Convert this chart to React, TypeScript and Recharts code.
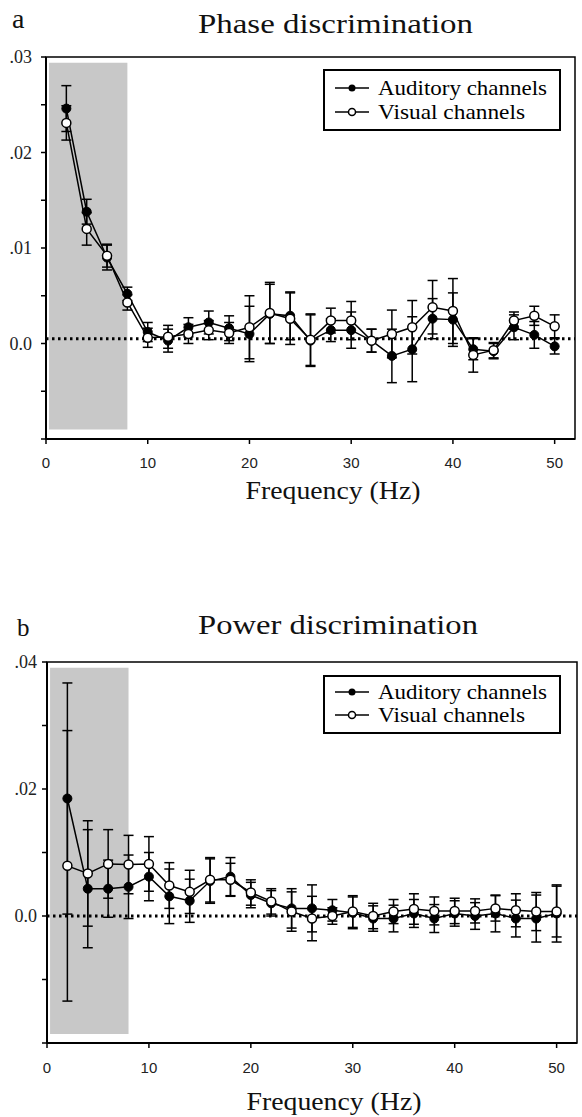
import React from "react";
import {
  ComposedChart,
  ErrorBar,
  Line,
  ReferenceArea,
  ReferenceLine,
  XAxis,
  YAxis,
} from "recharts";

// frequency bins (Hz)
const frequencies = [
  2, 4, 6, 8, 10, 12, 14, 16, 18, 20, 22, 24, 26, 28, 30, 32, 34, 36, 38, 40,
  42, 44, 46, 48, 50,
];

// panel a - phase discrimination
const phaseAuditory = [
  0.0246, 0.0138, 0.009, 0.0052, 0.0012, 0.0003, 0.0017, 0.0022, 0.0016, 0.001,
  0.0031, 0.0029, 0.0003, 0.0014, 0.0014, 0.0003, -0.0013, -0.0006, 0.0026,
  0.0025, -0.0006, -0.0008, 0.0017, 0.0009, -0.0003,
];
const phaseAuditoryErr = [
  0.0024, 0.0013, 0.0013, 0.0007, 0.001, 0.0012, 0.001, 0.0012, 0.0013, 0.0029,
  0.0031, 0.0025, 0.0027, 0.0012, 0.0019, 0.0012, 0.0028, 0.0034, 0.0021,
  0.0028, 0.0011, 0.0008, 0.0013, 0.0014, 0.0008,
];
const phaseVisual = [
  0.0231, 0.012, 0.0092, 0.0043, 0.0006, 0.0007, 0.001, 0.0014, 0.0011, 0.0017,
  0.0032, 0.0026, 0.0004, 0.0024, 0.0024, 0.0003, 0.001, 0.0017, 0.0038,
  0.0034, -0.0012, -0.0007, 0.0024, 0.0029, 0.0018,
];
const phaseVisualErr = [
  0.0018, 0.0017, 0.0012, 0.0008, 0.001, 0.0012, 0.001, 0.001, 0.0011, 0.0033,
  0.0032, 0.0027, 0.0027, 0.0013, 0.002, 0.0012, 0.0025, 0.0028, 0.0028,
  0.0034, 0.0018, 0.0008, 0.0009, 0.001, 0.0012,
];

// panel b - power discrimination
const powerAuditory = [
  0.0185, 0.0043, 0.0043, 0.0046, 0.0062, 0.0031, 0.0024, 0.0055, 0.0062,
  0.0033, 0.002, 0.0012, 0.0012, 0.0009, 0.0005, -0.0004, -0.0004, 0.0004,
  -0.0004, 0.0004, 0.0, 0.0004, -0.0004, -0.0004, 0.0004,
];
const powerAuditoryErr = [
  0.0182, 0.0093, 0.0045, 0.005, 0.0038, 0.0043, 0.0034, 0.0035, 0.003, 0.002,
  0.002, 0.0031, 0.0037, 0.0017, 0.0025, 0.002, 0.0021, 0.0022, 0.0022, 0.002,
  0.0021, 0.0029, 0.0029, 0.0037, 0.0045,
];
const powerVisual = [
  0.0079, 0.0067, 0.0082, 0.0081, 0.0082, 0.0048, 0.0038, 0.0057, 0.0057,
  0.0037, 0.0023, 0.0007, -0.0004, 0.0, 0.0007, 0.0, 0.0007, 0.0011, 0.0008,
  0.0008, 0.0008, 0.0012, 0.0009, 0.0007, 0.0007,
];
const powerVisualErr = [
  0.0213, 0.0083, 0.0054, 0.0046, 0.0043, 0.0036, 0.0034, 0.0035, 0.0026, 0.002,
  0.002, 0.0031, 0.0035, 0.0013, 0.0025, 0.002, 0.0019, 0.0024, 0.0022, 0.002,
  0.0019, 0.002, 0.0026, 0.003, 0.004,
];

const seriesNames = ["Auditory channels", "Visual channels"];

const xTicks = [0, 10, 20, 30, 40, 50];
const phaseYTicks = [-0.01, -0.005, 0, 0.005, 0.01, 0.015, 0.02, 0.025, 0.03];
const phaseYLabels = ["", "", "0.0", "", ".01", "", ".02", "", ".03"];
const powerYTicks = [-0.02, -0.01, 0, 0.01, 0.02, 0.03, 0.04];
const powerYLabels = ["", "", "0.0", "", ".02", "", ".04"];

const phaseChance = 0.0005;
const powerChance = 0;

const SERIF = "'Liberation Serif', 'Times New Roman', serif";
const SANS = "'Liberation Sans', Arial, sans-serif";

const makeRows = (aud: number[], audErr: number[], vis: number[], visErr: number[]) =>
  frequencies.map((f, i) => ({
    f,
    aud: aud[i],
    audErr: audErr[i],
    vis: vis[i],
    visErr: visErr[i],
  }));

interface PanelProps {
  top: number;
  rows: ReturnType<typeof makeRows>;
  yDomain: [number, number];
  yTicks: number[];
  yLabels: string[];
  shade: [number, number];
  chance: number;
  margin: { top: number; right: number; bottom: number; left: number };
  yWidth: number;
  yTickMargin: number;
  xTickMargin: number;
}

const Panel: React.FC<PanelProps> = ({
  top,
  rows,
  yDomain,
  yTicks,
  yLabels,
  shade,
  chance,
  margin,
  yWidth,
  yTickMargin,
  xTickMargin,
}) => (
  <div style={{ position: "absolute", left: 0, top, width: 582, height: 500 }}>
    <ComposedChart width={582} height={500} data={rows} margin={margin}>
      <ReferenceArea
        x1={0.3}
        x2={8}
        y1={shade[0]}
        y2={shade[1]}
        fill="#c8c8c8"
        fillOpacity={1}
        stroke="none"
      />
      <ReferenceArea
        x1={0}
        x2={52}
        y1={yDomain[0]}
        y2={yDomain[1]}
        fill="none"
        stroke="#000"
        strokeWidth={1.5}
      />
      <XAxis
        type="number"
        dataKey="f"
        domain={[0, 52]}
        ticks={xTicks}
        interval={0}
        height={30}
        tickSize={5}
        tickMargin={xTickMargin}
        axisLine={{ stroke: "#000", strokeWidth: 2 }}
        tickLine={{ stroke: "#000", strokeWidth: 1.5 }}
        tick={{ fill: "#222", fontSize: 15, fontFamily: SANS }}
      />
      <YAxis
        type="number"
        domain={yDomain}
        ticks={yTicks}
        interval={0}
        width={yWidth}
        tickSize={5}
        tickMargin={yTickMargin}
        axisLine={{ stroke: "#000", strokeWidth: 2 }}
        tickLine={{ stroke: "#000", strokeWidth: 1.5 }}
        tick={{ fill: "#222", fontSize: 18, fontFamily: SERIF }}
        tickFormatter={(v: number) => yLabels[yTicks.indexOf(v)] ?? ""}
      />
      <ReferenceLine
        y={chance}
        stroke="#000"
        strokeWidth={3}
        strokeDasharray="2.5 3.5"
      />
      <Line
        type="linear"
        dataKey="aud"
        name={seriesNames[0]}
        stroke="#000"
        strokeWidth={1.5}
        dot={{ r: 4.5, fill: "#000", stroke: "#000", strokeWidth: 1 }}
        activeDot={false}
        isAnimationActive={false}
      >
        <ErrorBar dataKey="audErr" width={5} stroke="#000" strokeWidth={1.5} direction="y" />
      </Line>
      <Line
        type="linear"
        dataKey="vis"
        name={seriesNames[1]}
        stroke="#000"
        strokeWidth={1.5}
        dot={{ r: 4.5, fill: "#fff", stroke: "#000", strokeWidth: 1.5 }}
        activeDot={false}
        isAnimationActive={false}
      >
        <ErrorBar dataKey="visErr" width={5} stroke="#000" strokeWidth={1.5} direction="y" />
      </Line>
    </ComposedChart>
  </div>
);

const LegendBox: React.FC<{ y: number; h: number; r1: number; r2: number }> = ({ y, h, r1, r2 }) => (
  <g>
    <rect x={324} y={y} width={236} height={h} fill="#fff" stroke="#000" strokeWidth={2} />
    <line x1={335} x2={369} y1={r1} y2={r1} stroke="#000" strokeWidth={1.5} />
    <circle cx={352} cy={r1} r={3.5} fill="#000" />
    <text x={378} y={r1 + 7} fontFamily={SERIF} fontSize={22} textLength={169} lengthAdjust="spacingAndGlyphs">
      {seriesNames[0]}
    </text>
    <line x1={335} x2={369} y1={r2} y2={r2} stroke="#000" strokeWidth={1.5} />
    <circle cx={352} cy={r2} r={3.5} fill="#fff" stroke="#000" strokeWidth={1.5} />
    <text x={378} y={r2 + 7} fontFamily={SERIF} fontSize={22} textLength={147} lengthAdjust="spacingAndGlyphs">
      {seriesNames[1]}
    </text>
  </g>
);

export default function App() {
  const phaseRows = makeRows(phaseAuditory, phaseAuditoryErr, phaseVisual, phaseVisualErr);
  const powerRows = makeRows(powerAuditory, powerAuditoryErr, powerVisual, powerVisualErr);

  return (
    <div style={{ position: "absolute", left: 0, top: 0, width: 582, height: 1117, background: "#fff" }}>
      <Panel
        top={0}
        rows={phaseRows}
        yDomain={[-0.01, 0.03]}
        yTicks={phaseYTicks}
        yLabels={phaseYLabels}
        shade={[-0.009, 0.0294]}
        chance={phaseChance}
        margin={{ top: 57, right: 7, bottom: 31, left: 0 }}
        yWidth={46}
        yTickMargin={9}
        xTickMargin={13}
      />
      <Panel
        top={600}
        rows={powerRows}
        yDomain={[-0.02, 0.04]}
        yTicks={powerYTicks}
        yLabels={powerYLabels}
        shade={[-0.0186, 0.0391]}
        chance={powerChance}
        margin={{ top: 62, right: 5, bottom: 27, left: 0 }}
        yWidth={47}
        yTickMargin={5}
        xTickMargin={14}
      />
      <svg
        width={582}
        height={1117}
        style={{ position: "absolute", left: 0, top: 0, pointerEvents: "none" }}
      >
        <text x={12} y={28} fontFamily={SERIF} fontSize={28} fill="#111">a</text>
        <text x={198} y={33} fontFamily={SERIF} fontSize={27} fill="#111" textLength={275} lengthAdjust="spacingAndGlyphs">
          Phase discrimination
        </text>
        <LegendBox y={70} h={60} r1={88} r2={112} />
        <text x={333} y={499} textAnchor="middle" fontFamily={SERIF} fontSize={25} fill="#111" textLength={175} lengthAdjust="spacingAndGlyphs">
          Frequency (Hz)
        </text>

        <text x={17} y={636} fontFamily={SERIF} fontSize={25} fill="#111">b</text>
        <text x={198} y={634} fontFamily={SERIF} fontSize={27} fill="#111" textLength={280} lengthAdjust="spacingAndGlyphs">
          Power discrimination
        </text>
        <LegendBox y={676} h={57} r1={692} r2={715} />
        <text x={334} y={1110} textAnchor="middle" fontFamily={SERIF} fontSize={25} fill="#111" textLength={175} lengthAdjust="spacingAndGlyphs">
          Frequency (Hz)
        </text>
      </svg>
    </div>
  );
}
